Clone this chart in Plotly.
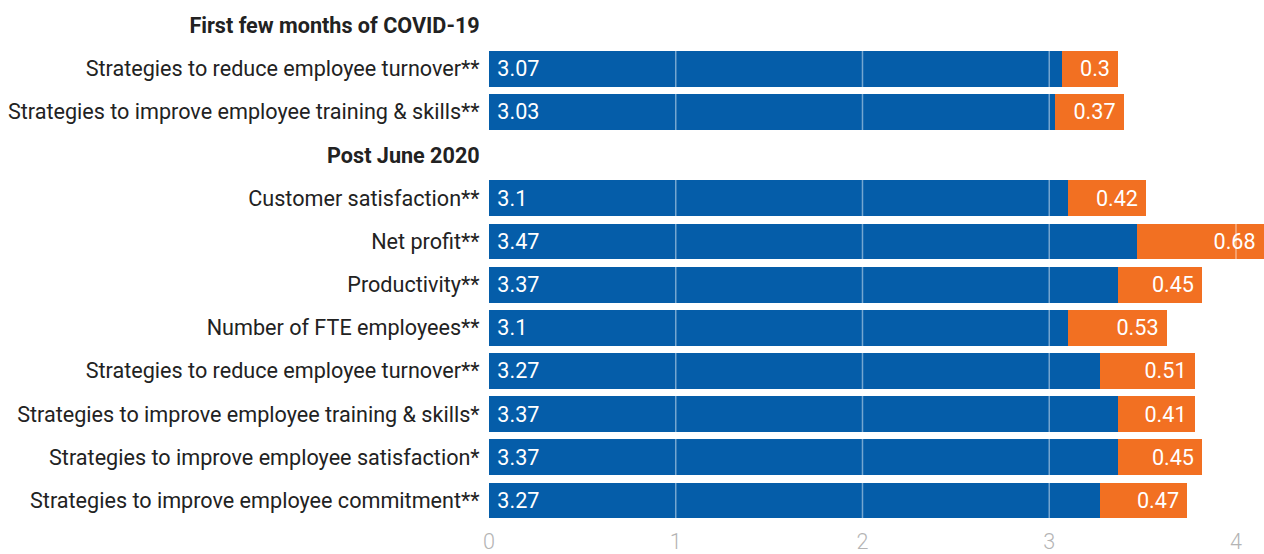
import plotly.graph_objects as go

# Row labels, top to bottom; header rows carry no values
labels = [
    "<b>First few months of COVID-19</b>",
    "Strategies to reduce employee turnover**",
    "Strategies to improve employee training & skills**",
    "<b>Post June 2020</b>",
    "Customer satisfaction**",
    "Net profit**",
    "Productivity**",
    "Number of FTE employees**",
    "Strategies to reduce employee turnover**",
    "Strategies to improve employee training & skills*",
    "Strategies to improve employee satisfaction*",
    "Strategies to improve employee commitment**",
]
base_values = [None, 3.07, 3.03, None, 3.1, 3.47, 3.37, 3.1, 3.27, 3.37, 3.37, 3.27]
added_values = [None, 0.3, 0.37, None, 0.42, 0.68, 0.45, 0.53, 0.51, 0.41, 0.45, 0.47]
x_ticks = [0, 1, 2, 3, 4]

BLUE = "#055da9"
ORANGE = "#f27022"
FONT = "Roboto, Arial, sans-serif"
SIZE = 21.6

rows = list(range(len(labels)))

fig = go.Figure()
fig.add_trace(go.Bar(
    y=rows, x=base_values, orientation="h", marker=dict(color=BLUE, line=dict(width=0)),
    width=0.83,
    text=[(" " + str(v)) if v is not None else "" for v in base_values],
    textposition="inside", insidetextanchor="start", constraintext="none",
    textfont=dict(color="white", size=SIZE, family=FONT),
    hoverinfo="skip",
))
fig.add_trace(go.Bar(
    y=rows, x=added_values, orientation="h", marker=dict(color=ORANGE, line=dict(width=0)),
    width=0.83,
    text=[(str(v) + " ") if v is not None else "" for v in added_values],
    textposition="inside", insidetextanchor="end", constraintext="none",
    textfont=dict(color="white", size=SIZE, family=FONT),
    hoverinfo="skip",
))

# Light grid lines drawn over the bars (invisible against the white background)
for t in x_ticks[1:]:
    fig.add_shape(
        type="line", xref="x", yref="paper", x0=t, x1=t, y0=0, y1=1,
        line=dict(color="rgba(255,255,255,0.45)", width=1.5), layer="above",
    )

fig.update_layout(
    barmode="stack",
    width=1264, height=554,
    margin=dict(l=489, r=0, t=4, b=23),
    paper_bgcolor="white", plot_bgcolor="white",
    showlegend=False,
    font=dict(family=FONT, size=SIZE, color="#222222"),
    xaxis=dict(
        range=[0, 4.15], tickvals=x_ticks, showgrid=False,
        zeroline=False, showline=False,
        tickfont=dict(size=SIZE, color="#b4b4b4", family=FONT, weight=300),
        ticks="", ticklabelstandoff=4, fixedrange=True,
    ),
    yaxis=dict(
        tickvals=rows, ticktext=labels,
        range=[len(labels) - 0.5, -0.5],
        showgrid=False, zeroline=False, showline=False,
        ticks="outside", ticklen=4, tickcolor="rgba(0,0,0,0)",
        tickfont=dict(size=SIZE, color="#222222", family=FONT),
    ),
)

fig.write_html("out.html")
